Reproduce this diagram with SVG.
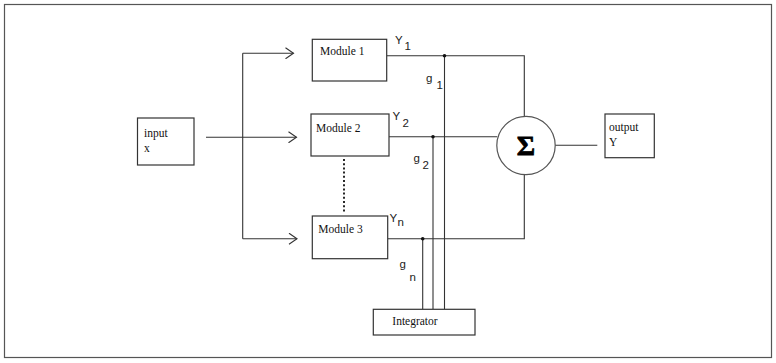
<svg xmlns="http://www.w3.org/2000/svg" width="776" height="363" viewBox="0 0 776 363">
<style>
.box{fill:#fff;stroke:#333;stroke-width:1.2}
.ln{fill:none;stroke:#333;stroke-width:1.1}
.ser{font-family:"Liberation Serif",serif;font-size:11.5px;fill:#111}
.san{font-family:"Liberation Sans",sans-serif;font-size:11.5px;fill:#222}
.sub{font-family:"Liberation Sans",sans-serif;font-size:11.5px;fill:#222}
.dot{fill:#111}
</style>
<defs>
<marker id="ah" viewBox="0 0 10 12" refX="9" refY="6" markerWidth="10" markerHeight="12" markerUnits="userSpaceOnUse" orient="auto">
<path d="M1,0.5 L9,6 L1,11.5" fill="none" stroke="#333" stroke-width="1.1"/>
</marker>
</defs>
<rect x="4.5" y="4.5" width="767" height="353" fill="#fff" stroke="#555" stroke-width="1.2"/>
<g id="connectors">
<path class="ln" d="M206,137.3 H296.5" marker-end="url(#ah)"/>
<path class="ln" d="M242.7,53.3 V238.7"/>
<path class="ln" d="M242.7,53.3 H293.5" marker-end="url(#ah)"/>
<path class="ln" d="M242.7,238.7 H297" marker-end="url(#ah)"/>
<path class="ln" d="M386.7,55.7 H524.3 V116"/>
<path class="ln" d="M389,136.7 H497.3"/>
<path class="ln" d="M387.7,238.7 H524.3 V175"/>
<path class="ln" d="M555,145.3 H597.3"/>
<path class="ln" d="M444.5,55.7 V309.3"/>
<path class="ln" d="M433,136.7 V309.3"/>
<path class="ln" d="M422.7,238.7 V309.3"/>
<path d="M344,159 V213" fill="none" stroke="#111" stroke-dasharray="2,2.2" stroke-width="1.8"/>
<circle class="dot" cx="444.5" cy="55.7" r="1.8"/>
<circle class="dot" cx="433" cy="136.7" r="1.8"/>
<circle class="dot" cx="422.7" cy="238.7" r="1.8"/>
<text class="san" x="395" y="44">Y</text><text class="sub" x="404.5" y="50">1</text>
<text class="san" x="392.5" y="120">Y</text><text class="sub" x="402.5" y="127">2</text>
<text class="san" x="389.5" y="222">Y</text><text class="sub" x="397.5" y="226">n</text>
<text class="san" x="426" y="82">g</text><text class="sub" x="436.5" y="88.5">1</text>
<text class="san" x="413.5" y="162">g</text><text class="sub" x="422.5" y="168.5">2</text>
<text class="san" x="399.5" y="268">g</text><text class="sub" x="409.5" y="280.5">n</text>
</g>
<g id="input">
<rect class="box" x="137.5" y="118" width="56.5" height="47"/>
<text class="ser" x="144" y="136.5">input</text>
<text class="ser" x="144" y="151.5">x</text>
</g>
<g id="module1">
<rect class="box" x="312.3" y="39.3" width="74.4" height="41.7"/>
<text class="ser" x="320" y="55">Module 1</text>
</g>
<g id="module2">
<rect class="box" x="311" y="114" width="78" height="42"/>
<text class="ser" x="316" y="131.5">Module 2</text>
</g>
<g id="module3">
<rect class="box" x="312.3" y="216" width="75.4" height="42.7"/>
<text class="ser" x="318.3" y="233.3">Module 3</text>
</g>
<g id="sum">
<circle cx="526" cy="145.5" r="29.2" fill="#fff" stroke="#555" stroke-width="1.2"/>
<text x="526" y="155" text-anchor="middle" font-family="Liberation Serif,serif" font-weight="bold" font-size="28" fill="#000" stroke="#000" stroke-width="0.8">Σ</text>
</g>
<g id="output">
<rect class="box" x="605" y="114" width="49.3" height="43.7"/>
<text class="ser" x="609" y="130.5">output</text>
<text class="ser" x="609" y="146">Y</text>
</g>
<g id="integrator">
<rect class="box" x="373.3" y="309.3" width="101.7" height="25.7"/>
<text class="ser" x="392.3" y="325">Integrator</text>
</g>
</svg>
